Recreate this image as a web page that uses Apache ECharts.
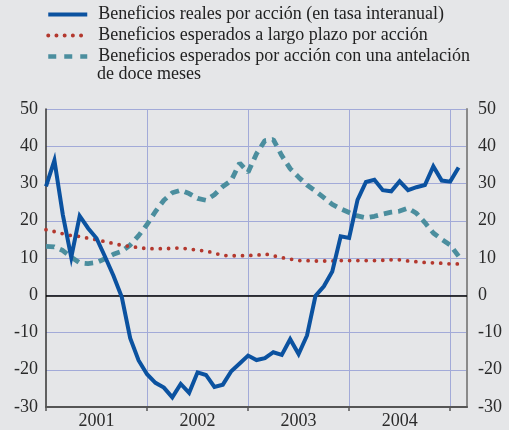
<!DOCTYPE html>
<html>
<head>
<meta charset="utf-8">
<script src="https://cdn.jsdelivr.net/npm/echarts@6/dist/echarts.min.js"></script>
<style>
  html, body { margin: 0; padding: 0; background: #e5e6e8; }
  #chart { width: 509px; height: 430px; }
</style>
</head>
<body>
<div id="chart"></div>
<script>
// monthly categories, Jan 2001 .. Mar 2005
const months = []
for (let y = 2001; y <= 2005; y++) {
  for (let m = 1; m <= 12; m++) {
    if (months.length < 51) months.push(y + '-' + String(m).padStart(2, '0'))
  }
}

const seriesNames = [
  'Beneficios reales por acción (en tasa interanual)',
  'Beneficios esperados a largo plazo por acción',
  'Beneficios esperados por acción con una antelación'
]

const realEps = [
  29.2, 36.2, 21.6, 10.2, 21.3, 18.0, 15.3, 10.4, 5.3, -0.5,
  -11.5, -17.5, -21.2, -23.5, -24.8, -27.4, -23.8, -26.2, -20.7, -21.4,
  -24.6, -24.0, -20.4, -18.3, -16.2, -17.4, -16.9, -15.3, -16.0, -11.8,
  -15.8, -10.8, -0.2, 2.4, 6.4, 15.8, 15.4, 25.6, 30.4, 31.0,
  28.2, 27.9, 30.6, 28.2, 29.0, 29.6, 34.6, 30.8, 30.5, 34.3
]

const longTerm = [
  17.6, 17.1, 16.5, 16.0, 15.8, 15.3, 14.9, 14.4, 13.9, 13.4,
  13.1, 12.8, 12.5, 12.5, 12.5, 12.6, 12.7, 12.4, 12.1, 11.9,
  11.3, 10.7, 10.6, 10.6, 10.7, 10.7, 11.1, 10.6, 10.1, 9.7,
  9.3, 9.3, 9.2, 9.2, 9.2, 9.3, 9.3, 9.3, 9.3, 9.3,
  9.4, 9.5, 9.5, 9.2, 9.0, 8.8, 8.7, 8.6, 8.4, 8.4
]

const twelveMonth = [
  13.1, 13.0, 12.0, 10.2, 8.7, 8.5, 8.8, 9.8, 11.0, 11.8,
  13.5, 16.0, 19.0, 22.5, 25.5, 27.5, 28.2, 27.3, 26.0, 25.5,
  27.0, 29.2, 30.8, 35.5, 33.0, 38.0, 41.5, 41.8, 37.5, 34.0,
  31.7, 29.6, 28.0, 26.2, 24.4, 23.2, 22.2, 21.3, 20.8, 21.2,
  21.8, 22.3, 22.6, 23.4, 22.0, 19.5, 16.7, 15.0, 13.5, 10.5
]

const yTicks = { min: -30, max: 50, step: 10 }

const font = '"Liberation Serif", "DejaVu Serif", serif'
const gridBlue = '#a2aad8'
const colors = { real: '#0b52a0', longTerm: '#b3382e', twelve: '#4b8e9e' }
const chart = echarts.init(document.getElementById('chart'))

const yAxisBase = {
  type: 'value',
  min: yTicks.min,
  max: yTicks.max,
  interval: yTicks.step,
  axisTick: { show: false },
  axisLabel: { color: '#2a2a2a', fontFamily: font, fontSize: 18 }
}

chart.setOption({
  backgroundColor: '#e5e6e8',
  animation: false,
  legend: {
    orient: 'vertical',
    left: 41,
    top: -1,
    itemWidth: 39,
    itemHeight: 14,
    itemGap: 0,
    itemStyle: { opacity: 0 },
    textStyle: { color: '#222', fontFamily: font, fontSize: 18, lineHeight: 21, padding: [0, 0, 0, 6] },
    data: [
      { name: seriesNames[0], lineStyle: { width: 4, color: colors.real } },
      { name: seriesNames[1], lineStyle: { width: 4, color: colors.longTerm, type: [0, 8.2], cap: 'round' } },
      { name: seriesNames[2], lineStyle: { width: 4.5, color: colors.twelve, type: [8, 8] } }
    ]
  },
  graphic: [{
    type: 'text',
    left: 97,
    top: 65,
    style: { text: 'de doce meses', fill: '#222', font: '18px ' + font }
  }],
  grid: { left: 46, right: 42, top: 109, bottom: 23 },
  xAxis: {
    type: 'category',
    data: months,
    boundaryGap: false,
    axisLine: { onZero: false, lineStyle: { color: '#555', width: 2 } },
    axisTick: { interval: i => i % 12 === 0, length: 4, lineStyle: { color: '#555', width: 1.5 } },
    axisLabel: {
      interval: i => i % 12 === 6,
      formatter: v => v.slice(0, 4),
      color: '#2a2a2a', fontFamily: font, fontSize: 18, margin: 5
    },
    splitLine: { show: true, interval: i => i % 12 === 0 && i > 0, lineStyle: { color: gridBlue, width: 1 } }
  },
  yAxis: [
    Object.assign({}, yAxisBase, {
      position: 'left',
      axisLine: { show: true, lineStyle: { color: '#333', width: 1.5 } },
      axisLabel: Object.assign({}, yAxisBase.axisLabel, { margin: 8 }),
      splitLine: { show: true, lineStyle: { color: gridBlue, width: 1 } }
    }),
    Object.assign({}, yAxisBase, {
      position: 'right',
      axisLine: { show: true, lineStyle: { color: '#8a8a8a', width: 2 } },
      axisLabel: Object.assign({}, yAxisBase.axisLabel, { margin: 11 }),
      splitLine: { show: false }
    })
  ],
  series: [
    {
      name: seriesNames[0],
      type: 'line',
      data: realEps,
      symbol: 'none',
      z: 5,
      lineStyle: { color: colors.real, width: 4, join: 'miter' },
      itemStyle: { color: colors.real },
      markLine: {
        silent: true,
        symbol: ['none', 'none'],
        label: { show: false },
        data: [{ yAxis: 0 }],
        lineStyle: { color: '#000', width: 1.5, type: 'solid', opacity: 1 }
      }
    },
    {
      name: seriesNames[1],
      type: 'line',
      data: longTerm,
      symbol: 'none',
      z: 4,
      lineStyle: { color: colors.longTerm, width: 3.8, type: [0, 8.3], cap: 'round' },
      itemStyle: { color: colors.longTerm }
    },
    {
      name: seriesNames[2],
      type: 'line',
      data: twelveMonth,
      symbol: 'none',
      z: 3,
      lineStyle: { color: colors.twelve, width: 4.8, type: [8.5, 6] },
      itemStyle: { color: colors.twelve }
    }
  ]
})

window.addEventListener('resize', () => chart.resize())
</script>
</body>
</html>
